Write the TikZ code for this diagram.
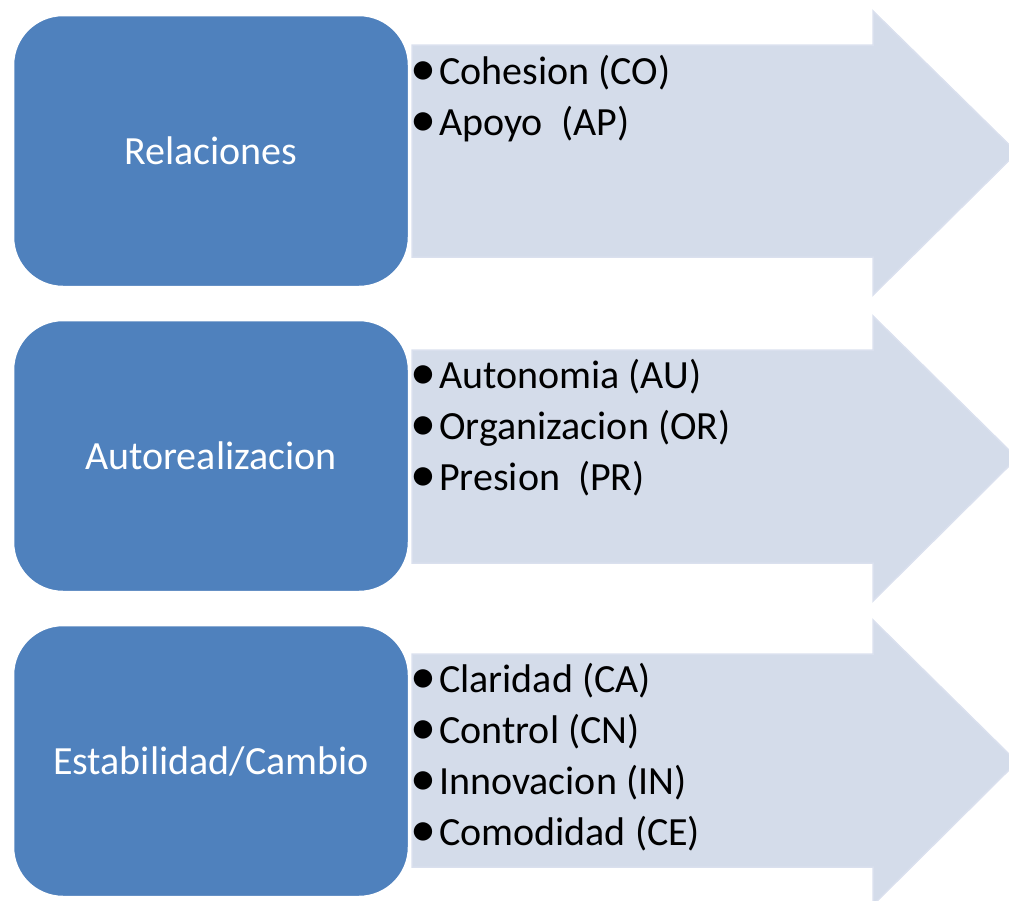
\documentclass[tikz,border=0pt]{standalone}
\usepackage{fontspec}
\usepackage{graphicx}
\setmainfont{Carlito}
\definecolor{boxblue}{RGB}{79,129,189}
\definecolor{arrowfill}{RGB}{212,220,234}
\definecolor{arrowline}{RGB}{218,224,238}
\tikzset{
  catbox/.style={draw=white, line width=2.5pt, fill=boxblue, rounded corners=50pt,
    minimum width=396pt, minimum height=272pt, inner sep=0pt, text=white,
    font=\fontsize{40pt}{48pt}\selectfont},
  itemtext/.style={anchor=base west, inner sep=0pt, text=black,
    font=\fontsize{40pt}{48pt}\selectfont},
  arrowshape/.style={fill=arrowfill, draw=arrowline, line width=1.5pt, line join=miter}
}
\newcommand{\bul}{\llap{\makebox[31pt]{\raisebox{-1.5pt}{\scalebox{1.3}{•}}}}}
\begin{document}
\begin{tikzpicture}[x=1pt,y=-1pt]
\useasboundingbox (0,0) rectangle (1009,900);
% arrows
\foreach \t/\b in {45/257, 350/563, 654/867}{
  \draw[arrowshape] (412,\t) -- (873,\t) -- (873,\t-34) -- (1017,{(\t+\b)/2+1.5}) -- (873,\b+38) -- (873,\b) -- (412,\b) -- cycle;
}
% category boxes
\node[catbox] (rel) at (211,151) {Relaciones};
\node[catbox] (aut) at (211,456) {Autorealizacion};
\node[catbox] (est) at (211,761) {Estabilidad/Cambio};
% items
\node[itemtext] (co) at (439,84) {\bul Cohesion (CO)};
\node[itemtext] (ap) at (439,135) {\bul Apoyo\ \ (AP)};
\node[itemtext] (au) at (439,388) {\bul Autonomia (AU)};
\node[itemtext] (or) at (439,439) {\bul Organizacion (OR)};
\node[itemtext] (pr) at (439,490) {\bul Presion\ \ (PR)};
\node[itemtext] (ca) at (439,692) {\bul Claridad (CA)};
\node[itemtext] (cn) at (439,743) {\bul Control (CN)};
\node[itemtext] (in) at (439,794) {\bul Innovacion (IN)};
\node[itemtext] (ce) at (439,845) {\bul Comodidad (CE)};
\end{tikzpicture}
\end{document}
